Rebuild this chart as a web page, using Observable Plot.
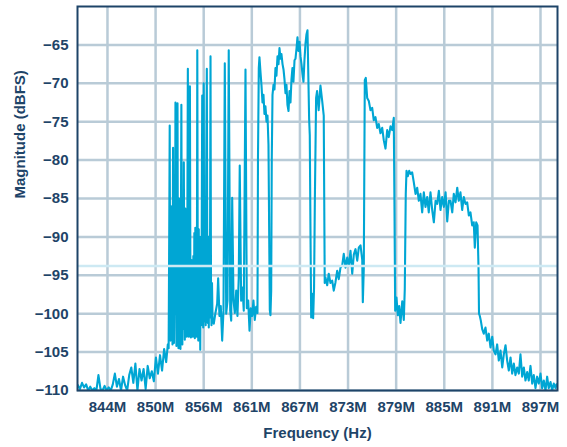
<!DOCTYPE html>
<html>
<head>
<meta charset="utf-8">
<script src="https://cdn.jsdelivr.net/npm/d3@7"></script>
<script src="https://cdn.jsdelivr.net/npm/@observablehq/plot@0.6"></script>
<style>
  html, body { margin: 0; padding: 0; background: #ffffff; }
  #chart { width: 567px; height: 447px; }
</style>
</head>
<body>
<div id="chart"></div>
<script>
// ---- data ----
const xTickValues = [844.00, 849.86, 855.72, 861.58, 867.44, 873.30, 879.16, 885.02, 890.88, 896.74];
const xTickLabels = ["844M", "850M", "856M", "861M", "867M", "873M", "879M", "885M", "891M", "897M"];
const yTickValues = [-65, -70, -75, -80, -85, -90, -95, -100, -105, -110];
const xDomain = [840.35, 898.81];
const yDomain = [-110, -60];
const referenceLevel = -93.8;
const xTitle = "Frequency (Hz)";
const yTitle = "Magnitude (dBFS)";

// spectrum: [frequency (MHz), magnitude (dBFS)]
const spectrum = [
  [840.40,-109.3],[840.65,-109.8],[840.90,-109.0],[841.15,-109.6],[841.40,-109.2],[841.65,-110],[841.90,-109.5],[842.15,-110],
  [842.40,-109.7],[842.65,-110],[842.90,-108.0],[843.15,-109.8],[843.40,-110],[843.65,-109.4],[843.90,-110],[844.15,-109.6],
  [844.40,-110],[844.65,-109.2],[844.90,-107.8],[845.15,-109.5],[845.40,-108.5],[845.65,-110],[845.90,-108.2],[846.15,-109.3],
  [846.40,-110],[846.65,-108.0],[846.90,-107.0],[847.15,-109.0],[847.40,-106.5],[847.65,-110],[847.90,-107.2],[848.15,-108.7],
  [848.40,-107.2],[848.65,-109.8],[848.90,-106.8],[849.15,-108.4],[849.40,-107.5],[849.65,-108.8],[849.90,-105.7],[850.15,-107.8],
  [850.40,-105.4],[850.65,-107.4],[850.90,-104.6],[851.15,-106.3],[851.35,-104.0],
  // dense narrow-carrier region
  [851.45,-104.5],[851.52,-90],[851.58,-75.5],[851.63,-96],[851.68,-103.5],[851.74,-86],[851.80,-102],[851.86,-89],
  [851.92,-104],[851.99,-78.4],[852.05,-97],[852.10,-103.8],[852.16,-88],[852.22,-100],[852.28,-72.5],[852.34,-95],
  [852.40,-104.2],[852.46,-87],[852.53,-72.6],[852.59,-99],[852.65,-104.5],[852.71,-85],[852.77,-103],[852.83,-90],
  [852.89,-104.6],[852.95,-88],[853.00,-72.8],[853.06,-97],[853.12,-104],[853.18,-91],[853.24,-102],[853.30,-80.3],
  [853.36,-98],[853.42,-103.4],[853.48,-86.3],[853.54,-102.8],[853.60,-93],[853.66,-103],[853.72,-92],[853.79,-68.1],
  [853.85,-95],[853.91,-103],[853.97,-93.5],[854.04,-70.4],[854.10,-96],[854.16,-103.1],[854.22,-93],[854.28,-102.5],
  [854.34,-94],[854.40,-103],[854.46,-92.5],[854.52,-102.8],[854.58,-89.5],[854.64,-103.2],[854.70,-88.8],[854.76,-102.5],
  [854.82,-90],[854.88,-103],[854.94,-65.7],[855.00,-96],[855.06,-103.5],[855.12,-89],[855.18,-102],[855.24,-91],
  [855.30,-104.7],[855.36,-90],[855.42,-101.5],[855.48,-89.5],[855.54,-71.6],[855.60,-95],[855.66,-101.8],[855.72,-70],
  [855.78,-96],[855.84,-101],[855.90,-89],[855.96,-101.5],[856.02,-82],[856.10,-68.1],[856.16,-96],[856.22,-101.2],
  [856.28,-90],[856.34,-101.8],[856.40,-92],[856.47,-100.5],[856.55,-66.5],[856.61,-97],[856.67,-101.5],[856.73,-96],
  // floor with isolated carriers
  [856.80,-100.8],[856.95,-101.3],[857.15,-99.9],[857.36,-98.7],[857.48,-95.4],[857.64,-100.3],[857.80,-99],[857.97,-103.5],
  [858.13,-99.6],[858.29,-67.4],[858.46,-100],[858.62,-98.3],[858.77,-65.7],[858.95,-99.6],[859.07,-100.9],[859.19,-84.9],
  [859.35,-98.3],[859.51,-99.9],[859.68,-97],[859.83,-100.3],[859.99,-95.3],[860.11,-80.7],[860.28,-98.3],[860.44,-96.6],
  [860.60,-99.6],[860.81,-68.2],[860.97,-99.3],[861.14,-98.3],[861.30,-102.2],[861.45,-99.3],[861.62,-100.3],[861.78,-98.3],
  [861.94,-100.8],[862.11,-99.1],[862.27,-99.9],
  // wide carrier 1
  [862.33,-80],[862.43,-68],[862.51,-66.6],[862.64,-68.6],[862.76,-70.3],[862.88,-72.5],[863.00,-71.5],[863.12,-74],
  [863.24,-73],[863.37,-75],[863.49,-74.2],[863.61,-78],[863.70,-90],[863.77,-99.5],[863.85,-100.2],[863.94,-97],
  [864.01,-80],[864.10,-71.5],[864.22,-70.2],[864.34,-70.8],[864.46,-68],[864.58,-69],[864.71,-66.5],[864.83,-67.5],
  [864.95,-65.4],[865.07,-66.8],[865.19,-66.2],[865.32,-67.5],[865.44,-68.2],[865.56,-69.5],[865.68,-71.3],[865.80,-70.2],
  [865.92,-72.8],[866.05,-73.6],[866.17,-71],[866.29,-72.5],[866.41,-69.5],[866.53,-68],[866.65,-69.8],[866.78,-67],
  [866.90,-66.8],[867.02,-65.5],[867.14,-64],[867.26,-65.8],[867.39,-64.6],[867.51,-66.5],[867.63,-67.5],[867.75,-68.8],
  [867.87,-69.8],[867.99,-67],[868.12,-64.8],[868.24,-63.6],[868.36,-63.1],[868.48,-70],[868.56,-74.6],[868.64,-76.8],
  [868.73,-90],[868.81,-100.5],[868.93,-97.4],[869.05,-100.6],[869.16,-96.6],[869.26,-85],[869.41,-71.9],[869.53,-71],
  [869.72,-73.5],[869.94,-70.3],[870.15,-72.3],[870.34,-74.2],[870.46,-96],
  // floor between carriers
  [870.55,-95.3],[870.76,-96.3],[870.95,-94.8],[871.16,-96],[871.37,-95.7],[871.56,-97],[871.77,-95.9],[871.98,-94.4],
  [872.17,-95.5],[872.38,-94],[872.59,-93.7],[872.78,-92.2],[872.99,-94],[873.20,-92.7],[873.39,-93.8],[873.60,-91.8],
  [873.81,-94.8],[874.00,-92.3],[874.21,-91.6],[874.42,-93.1],[874.61,-91.4],[874.82,-91.1],[875.03,-93],[875.10,-98.5],
  [875.22,-94],
  // wide carrier 2
  [875.34,-69.6],[875.46,-69.3],[875.63,-71.9],[875.83,-72.3],[876.03,-73.5],[876.24,-73.2],[876.43,-74.8],[876.64,-74.4],
  [876.85,-75.8],[877.04,-75.3],[877.25,-76.5],[877.46,-75.8],[877.65,-77.4],[877.86,-78.5],[878.07,-76.1],[878.26,-77],
  [878.47,-75.6],[878.68,-76.1],[878.87,-74.5],[878.96,-86.9],[879.04,-99.6],[879.20,-97.9],[879.36,-100.2],[879.53,-99],
  [879.69,-101.2],[879.90,-98.4],[880.09,-100.8],[880.21,-96.8],
  // wide carrier 3
  [880.33,-84.4],[880.42,-81.4],[880.58,-82.1],[880.75,-81.4],[880.91,-81.8],[881.11,-81.6],[881.31,-82.9],[881.52,-84.4],
  [881.72,-83.6],[881.92,-85.3],[882.12,-84.4],[882.33,-86.8],[882.53,-84.2],[882.73,-86.1],[882.94,-84.8],[883.13,-86.8],
  [883.34,-84.2],[883.55,-86.5],[883.75,-88.1],[883.96,-85.3],[884.16,-85.7],[884.36,-84],[884.56,-86.5],[884.77,-84.8],
  [884.97,-86.1],[885.18,-84.2],[885.38,-88],[885.58,-85.3],[885.78,-85.3],[885.99,-86.8],[886.18,-84.4],[886.39,-85.5],
  [886.60,-83.6],[886.79,-85.3],[886.99,-84.2],[887.20,-86.5],[887.40,-84.8],[887.60,-85.7],[887.81,-85.5],[888.01,-87.2],
  [888.21,-86.8],[888.42,-88.5],[888.61,-88.1],[888.74,-91.4],[888.91,-88.1],[889.07,-88.5],[889.19,-94],
  // roll-off
  [889.25,-100],[889.35,-100.3],[889.47,-100.9],[889.64,-102],[889.83,-102.6],[890.04,-101.8],[890.25,-103.5],[890.44,-102.6],
  [890.65,-104.4],[890.86,-103],[891.05,-104.8],[891.26,-105.3],[891.46,-104],[891.66,-106.1],[891.87,-104.8],[892.08,-107],
  [892.27,-105.3],[892.48,-104.1],[892.68,-106.1],[892.88,-107.4],[893.09,-105.7],[893.29,-107.8],[893.49,-106.5],[893.69,-108],
  [893.90,-107],[894.10,-107.8],[894.30,-105.3],[894.51,-108.2],[894.71,-107],[894.91,-108.7],[895.12,-107.6],[895.31,-108.7],
  [895.52,-106.8],[895.73,-109.1],[895.92,-108],[896.13,-109.7],[896.33,-108.2],[896.53,-109.1],[896.74,-107.8],[896.94,-109.7],
  [897.14,-108.7],[897.35,-110],[897.55,-108.2],[897.74,-109.7],[897.96,-108.9],[898.16,-110],[898.36,-109.1],[898.57,-109.7],
  [898.69,-109.2]
];

// ---- styles ----
const navy = "#1e4468";
const gridColor = "#b9cbd7";
const traceColor = "#00a6d4";
const refColor = "#cde9f3";
const xLabelByValue = new Map(xTickValues.map((v, i) => [v, xTickLabels[i]]));

const chart = Plot.plot({
  width: 567,
  height: 447,
  marginLeft: 77,
  marginRight: 10,
  marginTop: 6,
  marginBottom: 57,
  style: {
    fontFamily: "'Liberation Sans', Arial, Helvetica, sans-serif",
    fontSize: "15px",
    fontWeight: "bold",
    color: navy,
    background: "#ffffff"
  },
  x: {domain: xDomain},
  y: {domain: yDomain},
  marks: [
    Plot.gridX(xTickValues, {stroke: gridColor, strokeOpacity: 1, strokeWidth: 2.5}),
    Plot.gridY(yTickValues, {stroke: gridColor, strokeOpacity: 1, strokeWidth: 2.5}),
    Plot.line(spectrum, {x: d => d[0], y: d => d[1], stroke: traceColor, strokeWidth: 2.1, strokeLinejoin: "round", clip: true}),
    Plot.ruleY([referenceLevel], {stroke: refColor, strokeWidth: 2.5}),
    Plot.frame({stroke: navy, strokeWidth: 2}),
    Plot.axisX(xTickValues, {tickSize: 0, tickPadding: 11, tickFormat: d => xLabelByValue.get(d), label: null}),
    Plot.axisY(yTickValues, {tickSize: 0, tickPadding: 9, tickFormat: d => "\u2212" + Math.abs(d), label: null}),
    Plot.text([xTitle], {frameAnchor: "bottom", dy: 47, fill: navy, fontSize: 15, fontWeight: "bold"}),
    Plot.text([yTitle], {frameAnchor: "left", dx: -57, rotate: -90, fill: navy, fontSize: 15, fontWeight: "bold"})
  ]
});
document.getElementById("chart").appendChild(chart);
</script>
</body>
</html>
